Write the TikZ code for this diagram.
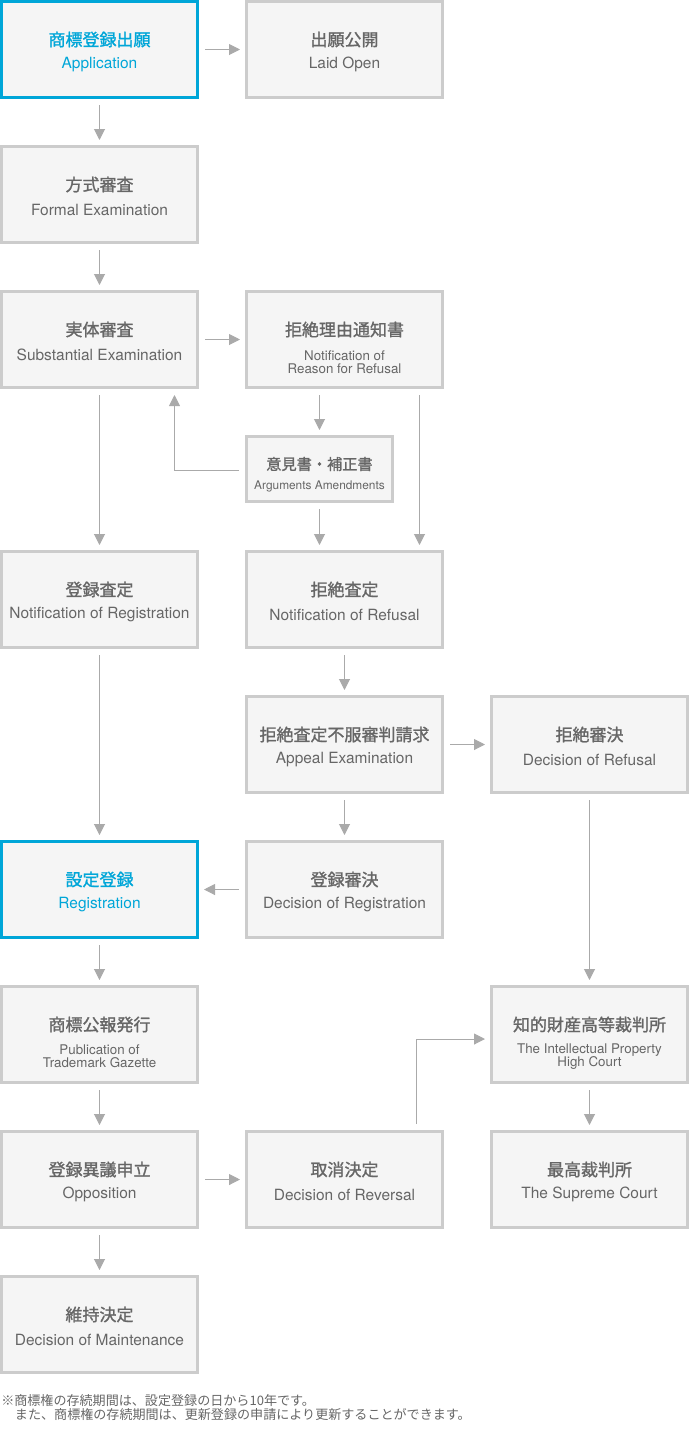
\documentclass[tikz,border=0pt]{standalone}
\usepackage{fontspec}
\newfontfamily\jp{Noto Sans CJK JP}
\newfontfamily\jpb[FakeBold=1.3]{Noto Sans CJK JP}
\newfontfamily\en{TeX Gyre Heros}
\usetikzlibrary{arrows.meta,calc}
\definecolor{bfill}{HTML}{F5F5F5}
\definecolor{bline}{HTML}{CCCCCC}
\definecolor{blueone}{HTML}{00A6D8}
\definecolor{txt}{HTML}{666666}
\definecolor{arrc}{HTML}{AAAAAA}
\newcommand\flowbox[7]{% name, boxstyle, x, y, jp, en, textcolor
  \node[#2] (#1) at (#3,#4) {};
  \node[jt,text=#7] (#1-j) at ($(#1)+(0,-10)$) {#5};
  \node[et,text=#7] (#1-e) at ($(#1)+(0,15)$) {#6};}
\begin{document}
\begin{tikzpicture}[x=0.75pt,y=-0.75pt,
  box/.style={draw=bline,fill=bfill,line width=2.25pt,minimum width=147pt,minimum height=72pt,inner sep=0,outer sep=0},
  hbox/.style={box,draw=blueone},
  jt/.style={font=\jpb\fontsize{12.75pt}{15pt}\selectfont,inner sep=0},
  et/.style={font=\en\fontsize{11.6pt}{13pt}\selectfont,inner sep=0},
  es/.style={text=txt,font=\en\fontsize{10pt}{9.75pt}\selectfont,inner sep=0,align=center},
  link/.style={draw=arrc,line width=0.75pt,-{Triangle[length=8.25pt,width=8.25pt]}},
]
\useasboundingbox (0,0) rectangle (690,1440);

% row 1
\flowbox{app}{hbox}{99.5}{49.5}{商標登録出願}{Application}{blueone}
\flowbox{laid}{box}{344.5}{49.5}{出願公開}{Laid Open}{txt}
% row 2
\flowbox{formal}{box}{99.5}{194.5}{方式審査}{Formal Examination}{txt}
% row 3
\flowbox{sub}{box}{99.5}{339.5}{実体審査}{Substantial Examination}{txt}
\node[box] (notif) at (344.5,339.5) {};
\node[jt,text=txt] (notif-j) at ($(notif)+(0,-10)$) {拒絶理由通知書};
\node[es] (notif-e) at ($(notif)+(0,23)$) {Notification of\\Reason for Refusal};
% small box
\node[box,minimum width=109.5pt,minimum height=48.75pt] (args) at (319.5,469) {};
\node[jt,text=txt,font=\jpb\fontsize{11.4pt}{13pt}\selectfont] (args-j) at ($(args)+(0,-5)$) {意見書・補正書};
\node[et,text=txt,font=\en\fontsize{8.9pt}{10pt}\selectfont] (args-e) at ($(args)+(0,17)$) {Arguments Amendments};
% row 4
\flowbox{regd}{box}{99.5}{599.5}{登録査定}{Notification of Registration}{txt}
\flowbox{refd}{box}{344.5}{599.5}{拒絶査定}{Notification of Refusal}{txt}
% row 5
\flowbox{appeal}{box}{344.5}{744.5}{拒絶査定不服審判請求}{Appeal Examination}{txt}
\flowbox{decref}{box}{589.5}{744.5}{拒絶審決}{Decision of Refusal}{txt}
% row 6
\flowbox{reg}{hbox}{99.5}{889.5}{設定登録}{Registration}{blueone}
\flowbox{decreg}{box}{344.5}{889.5}{登録審決}{Decision of Registration}{txt}
% row 7
\node[box] (pub) at (99.5,1034.5) {};
\node[jt,text=txt] (pub-j) at ($(pub)+(0,-10)$) {商標公報発行};
\node[es] (pub-e) at ($(pub)+(0,22)$) {Publication of\\Trademark Gazette};
\node[box] (high) at (589.5,1034.5) {};
\node[jt,text=txt] (high-j) at ($(high)+(0,-10)$) {知的財産高等裁判所};
\node[es] (high-e) at ($(high)+(0,22)$) {The Intellectual Property\\High Court};
% row 8
\flowbox{opp}{box}{99.5}{1179.5}{登録異議申立}{Opposition}{txt}
\flowbox{rev}{box}{344.5}{1179.5}{取消決定}{Decision of Reversal}{txt}
\flowbox{sup}{box}{589.5}{1179.5}{最高裁判所}{The Supreme Court}{txt}
% row 9
\flowbox{maint}{box}{99.5}{1324.5}{維持決定}{Decision of Maintenance}{txt}

% footnote
\node[anchor=north west,inner sep=0,text=txt,align=left,font=\jp\fontsize{9.8pt}{10.6pt}\selectfont] (note) at (1,1394)
  {※商標権の存続期間は、設定登録の日から10年です。\\\hspace*{1.05em}また、商標権の存続期間は、更新登録の申請により更新することができます。};

% connectors
\draw[link] ($(app.east)+(7.5,0)$) -- ($(laid.west)+(-6.5,0)$);
\draw[link] ($(app.south)+(0,7.5)$) -- ($(formal.north)+(0,-6.5)$);
\draw[link] ($(formal.south)+(0,7.5)$) -- ($(sub.north)+(0,-6.5)$);
\draw[link] ($(sub.east)+(7.5,0)$) -- ($(notif.west)+(-6.5,0)$);
\draw[link] ($(sub.south)+(0,7.5)$) -- ($(regd.north)+(0,-6.5)$);
\draw[link] ($(notif.south)+(-25,7.5)$) -- ($(args.north)+(0,-6.5)$);
\draw[link] ($(args.west)+(-7.5,1)$) -| ($(sub.south)+(75,7.5)$);
\draw[link] ($(notif.south)+(75,7.5)$) -- ($(refd.north)+(75,-6.5)$);
\draw[link] ($(args.south)+(0,7.5)$) -- ($(refd.north)+(-25,-6.5)$);
\draw[link] ($(refd.south)+(0,7.5)$) -- ($(appeal.north)+(0,-6.5)$);
\draw[link] ($(appeal.east)+(7.5,0)$) -- ($(decref.west)+(-6.5,0)$);
\draw[link] ($(regd.south)+(0,7.5)$) -- ($(reg.north)+(0,-6.5)$);
\draw[link] ($(appeal.south)+(0,7.5)$) -- ($(decreg.north)+(0,-6.5)$);
\draw[link] ($(decreg.west)+(-7.5,0)$) -- ($(reg.east)+(6.5,0)$);
\draw[link] ($(decref.south)+(0,7.5)$) -- ($(high.north)+(0,-6.5)$);
\draw[link] ($(reg.south)+(0,7.5)$) -- ($(pub.north)+(0,-6.5)$);
\draw[link] ($(pub.south)+(0,7.5)$) -- ($(opp.north)+(0,-6.5)$);
\draw[link] ($(opp.east)+(7.5,0)$) -- ($(rev.west)+(-6.5,0)$);
\draw[link] ($(rev.north)+(72,-7.5)$) |- ($(high.west)+(-6.5,4.5)$);
\draw[link] ($(high.south)+(0,7.5)$) -- ($(sup.north)+(0,-6.5)$);
\draw[link] ($(opp.south)+(0,7.5)$) -- ($(maint.north)+(0,-6.5)$);
\end{tikzpicture}
\end{document}
